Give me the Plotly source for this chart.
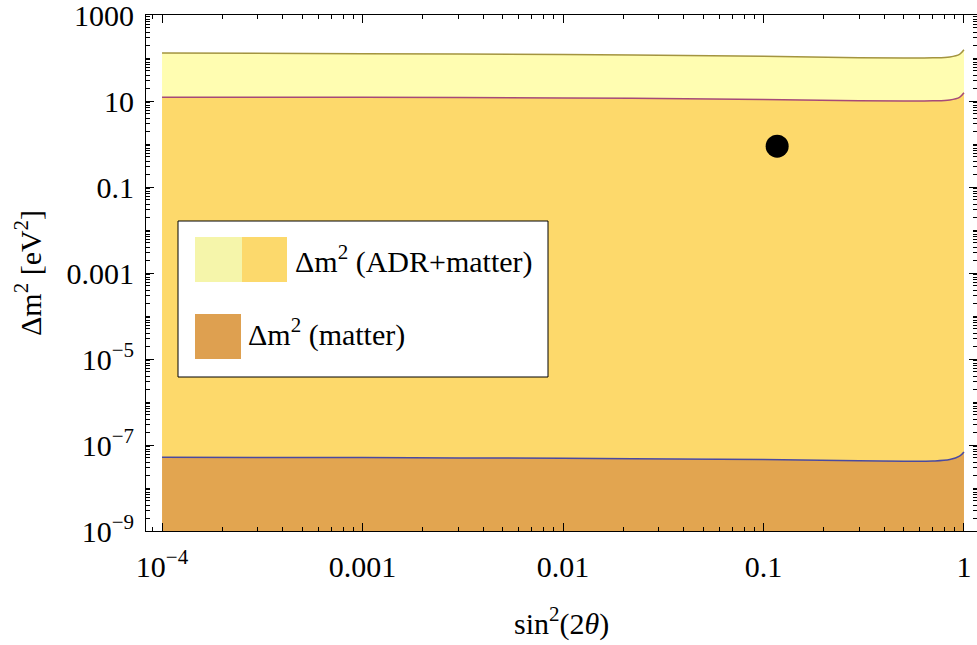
import plotly.graph_objects as go

# data
sin2 = [1e-4, 1e-3, 1e-2, 0.1, 0.3, 0.5, 0.7, 0.85, 0.95, 1.0]
upper_adr = [130, 126, 120, 110, 102, 100, 101, 106, 122, 155]
upper_mid = [12.3, 12.2, 11.8, 10.9, 10.2, 10.0, 10.1, 10.6, 12.2, 15.5]
upper_matter = [5.2e-8, 5.1e-8, 4.9e-8, 4.6e-8, 4.3e-8, 4.2e-8, 4.25e-8, 4.6e-8, 5.5e-8, 6.9e-8]
floor_val = [1e-9] * len(sin2)
point_x = [0.117]
point_y = [0.89]

y_tickvals = [1e-9, 1e-7, 1e-5, 1e-3, 0.1, 10, 1000]
y_ticktext = ["10<sup>−9</sup>", "10<sup>−7</sup>", "10<sup>−5</sup>", "0.001", "0.1", "10", "1000"]
x_tickvals = [1e-4, 1e-3, 1e-2, 0.1, 1]
x_ticktext = ["10<sup>−4</sup>", "0.001", "0.01", "0.1", "1"]

FONT = "Liberation Serif"
FS = 30
C_LIGHT = "#FFFDB1"
C_MID = "#FDD96B"
C_ORANGE = "#E2A550"

fig = go.Figure()
fig.add_trace(go.Scatter(x=sin2, y=floor_val, mode="lines", line=dict(width=0), showlegend=False, hoverinfo="skip"))
fig.add_trace(go.Scatter(x=sin2, y=upper_matter, mode="lines", line=dict(color="#4A4AA0", width=1.5, shape="spline"),
                         fill="tonexty", fillcolor=C_ORANGE, showlegend=False))
fig.add_trace(go.Scatter(x=sin2, y=upper_mid, mode="lines", line=dict(color="#A64A78", width=1.5, shape="spline"),
                         fill="tonexty", fillcolor=C_MID, showlegend=False))
fig.add_trace(go.Scatter(x=sin2, y=upper_adr, mode="lines", line=dict(color="#A39440", width=1.5, shape="spline"),
                         fill="tonexty", fillcolor=C_LIGHT, showlegend=False))
fig.add_trace(go.Scatter(x=point_x, y=point_y, mode="markers", marker=dict(color="black", size=23), showlegend=False))

minor_x = [m * 10**k for k in range(-5, 1) for m in range(2, 10)]
minor_y = [m * 10**k for k in range(-10, 3) for m in range(1, 10)]

L, R, T, B = 146, 977, 15, 531
W, H = 977, 645

def px(x):
    return (x - L) / (R - L)

def py(y):
    return (B - y) / (B - T)

fig.update_layout(
    width=W, height=H,
    margin=dict(l=L, r=W - R, t=T, b=H - B, autoexpand=False),
    paper_bgcolor="white", plot_bgcolor="white",
    font=dict(family=FONT, size=FS, color="black"),
    xaxis=dict(type="log", range=[-4.08, 0.065], tickvals=x_tickvals, ticktext=x_ticktext,
               ticks="inside", ticklen=8, tickcolor="black", showline=True, linecolor="black", linewidth=1,
               mirror="allticks", showgrid=False, zeroline=False, ticklabelstandoff=9, automargin=False,
               ticklabeloverflow="allow", tickfont=dict(size=FS),
               minor=dict(tickvals=minor_x, ticks="inside", ticklen=4, tickcolor="black", showgrid=False)),
    yaxis=dict(type="log", range=[-9, 3], tickvals=y_tickvals, ticktext=y_ticktext,
               ticks="inside", ticklen=8, tickcolor="black", showline=True, linecolor="black", linewidth=1,
               mirror="allticks", showgrid=False, zeroline=False, ticklabelstandoff=5, automargin=False,
               ticklabeloverflow="allow", tickfont=dict(size=FS),
               minor=dict(tickvals=minor_y, ticks="inside", ticklen=4, tickcolor="black", showgrid=False)),
)

shapes = [
    dict(type="rect", xref="paper", yref="paper", x0=px(178), x1=px(548), y0=py(377), y1=py(221),
         fillcolor="white", line=dict(color="black", width=1)),
    dict(type="rect", xref="paper", yref="paper", x0=px(195), x1=px(242), y0=py(282), y1=py(237),
         fillcolor="#F5F5AA", line=dict(width=0)),
    dict(type="rect", xref="paper", yref="paper", x0=px(242), x1=px(287), y0=py(282), y1=py(237),
         fillcolor="#FCD96C", line=dict(width=0)),
    dict(type="rect", xref="paper", yref="paper", x0=px(195), x1=px(241), y0=py(359), y1=py(314),
         fillcolor="#DEA050", line=dict(width=0)),
]
fig.update_layout(shapes=shapes)
fig.add_annotation(xref="paper", yref="paper", x=px(293), y=py(259), xanchor="left", yanchor="middle",
                   text="Δm<sup>2</sup> (ADR+matter)", showarrow=False, font=dict(size=FS))
fig.add_annotation(xref="paper", yref="paper", x=px(246), y=py(332), xanchor="left", yanchor="middle",
                   text="Δm<sup>2</sup> (matter)", showarrow=False, font=dict(size=FS))
# axis titles
fig.add_annotation(xref="paper", yref="paper", x=px(561), y=py(621), xanchor="center", yanchor="middle",
                   text="sin<sup>2</sup>(2<i>θ</i>)", showarrow=False, font=dict(size=FS))
fig.add_annotation(xref="paper", yref="paper", x=px(28), y=py(273), xanchor="center", yanchor="middle",
                   text="Δm<sup>2</sup> [eV<sup>2</sup>]", textangle=-90, showarrow=False, font=dict(size=FS))

fig.write_html("out.html")
